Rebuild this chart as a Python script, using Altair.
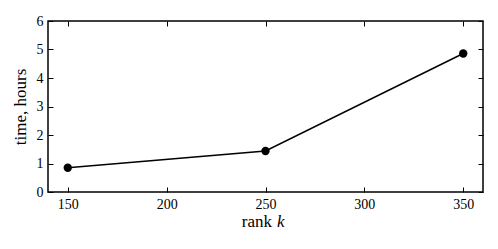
import altair as alt
import pandas as pd

# data
ranks = [150, 250, 350]
hours = [0.85, 1.44, 4.86]
x_ticks = [150, 200, 250, 300, 350]
y_ticks = [0, 1, 2, 3, 4, 5, 6]
x_title_parts = ["rank", "k"]
y_title = "time, hours"

df = pd.DataFrame({"rank": ranks, "hours": hours})

W, H = 435, 171
FONT = "Liberation Serif"

xs = alt.Scale(domain=[140, 360], nice=False, zero=False)
ys = alt.Scale(domain=[0, 6], nice=False, zero=True)

label_axis_common = dict(
    ticks=False, domain=False, grid=False,
    labelFont=FONT, labelFontSize=14, labelColor="black", labelPadding=5,
)
tick_axis_common = dict(
    labels=False, domain=False, grid=False, ticks=True,
    tickSize=5, tickColor="black", tickWidth=1, title=None,
)

main_line = alt.Chart(df).mark_line(color="black", strokeWidth=1.5).encode(
    x=alt.X("rank:Q", scale=xs,
            axis=alt.Axis(orient="bottom", values=x_ticks, title=None, **label_axis_common)),
    y=alt.Y("hours:Q", scale=ys,
            axis=alt.Axis(orient="left", values=y_ticks, title=y_title,
                          titleFont=FONT, titleFontSize=17, titleFontWeight="normal",
                          titleColor="black", titlePadding=7, **label_axis_common)),
)

points = alt.Chart(df).mark_circle(color="black", size=70, opacity=1).encode(
    x=alt.X("rank:Q", scale=xs, axis=None),
    y=alt.Y("hours:Q", scale=ys, axis=None),
)

# inward ticks: bottom & left
ticks_bl = alt.Chart(df).mark_point(opacity=0).encode(
    x=alt.X("rank:Q", scale=xs,
            axis=alt.Axis(orient="top", offset=-H, values=x_ticks, **tick_axis_common)),
    y=alt.Y("hours:Q", scale=ys,
            axis=alt.Axis(orient="right", offset=-W, values=y_ticks, **tick_axis_common)),
)

# inward ticks: top & right
ticks_tr = alt.Chart(df).mark_point(opacity=0).encode(
    x=alt.X("rank:Q", scale=xs,
            axis=alt.Axis(orient="bottom", offset=-H, values=x_ticks, **tick_axis_common)),
    y=alt.Y("hours:Q", scale=ys,
            axis=alt.Axis(orient="left", offset=-W, values=y_ticks, **tick_axis_common)),
)

title_rank = alt.Chart(pd.DataFrame({"t": [x_title_parts[0]]})).mark_text(
    align="right", baseline="alphabetic", font=FONT, fontSize=17, color="black"
).encode(x=alt.value(224), y=alt.value(206), text="t:N")

title_k = alt.Chart(pd.DataFrame({"t": [x_title_parts[1]]})).mark_text(
    align="left", baseline="alphabetic", font=FONT, fontSize=17, fontStyle="italic", color="black"
).encode(x=alt.value(229), y=alt.value(206), text="t:N")

chart = alt.layer(
    main_line, points, ticks_bl, ticks_tr, title_rank, title_k
).resolve_axis(
    x="independent", y="independent"
).properties(
    width=W, height=H,
    autosize=alt.AutoSizeParams(type="none"),
    padding={"left": 40, "top": 13, "right": 7, "bottom": 40},
).configure(
    background="white", font=FONT
).configure_view(
    stroke="black", strokeWidth=1.5
).configure_axis(
    labelFont=FONT, titleFont=FONT
)

chart.save("out.html", embed_options={"renderer": "svg", "actions": False})
